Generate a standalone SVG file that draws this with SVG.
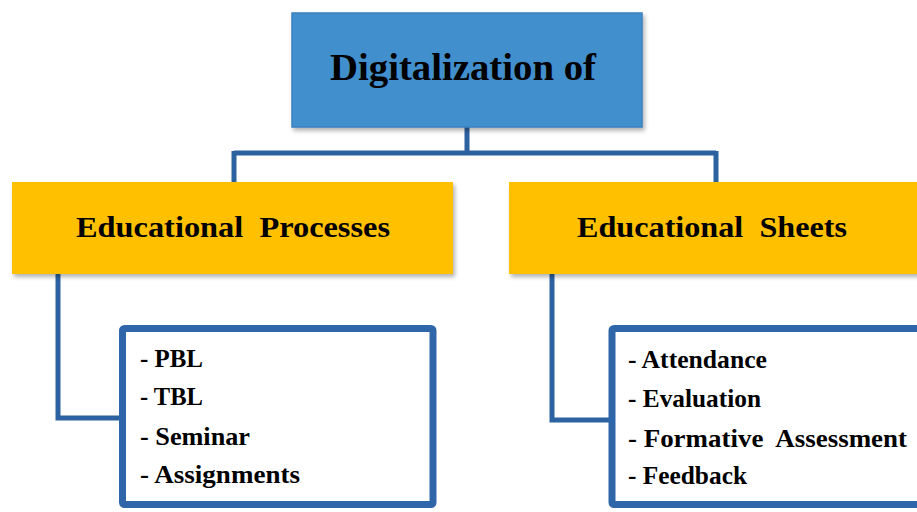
<svg xmlns="http://www.w3.org/2000/svg" width="917" height="512" viewBox="0 0 917 512">
<style>
text{font-family:"Liberation Serif","Times New Roman",serif;font-weight:bold;fill:#000}
.head{font-size:37px}
.cat{font-size:30px}
.item{font-size:25px}
.conn{fill:none;stroke:#2C62A0;stroke-width:5;stroke-linejoin:miter}
.list{fill:#fff;stroke:#2E66A9;stroke-width:7}
</style>
<defs>
<filter id="sh" x="-5%" y="-10%" width="115%" height="130%">
<feDropShadow dx="2" dy="3" stdDeviation="2" flood-color="#000" flood-opacity="0.3"/>
</filter>
</defs>
<rect width="917" height="512" fill="#fff"/>
<g id="connectors">
<path class="conn" d="M467,126 V153 M234,153 H716 M234,151 V182 M716,151 V182"/>
<path class="conn" d="M58,274 V418 H122"/>
<path class="conn" d="M552,274 V420 H612"/>
</g>
<g id="root">
<rect x="292" y="13" width="350" height="114" fill="#438FCE" stroke="#3A80C0" stroke-width="1.5" filter="url(#sh)"/>
<text class="head" x="330" y="80" textLength="266" lengthAdjust="spacingAndGlyphs">Digitalization of</text>
</g>
<g id="processes">
<rect x="12" y="182" width="441" height="92" fill="#FFC000" filter="url(#sh)"/>
<text class="cat" x="76" y="237" textLength="314" lengthAdjust="spacingAndGlyphs">Educational&#160; Processes</text>
</g>
<g id="sheets">
<rect x="509" y="182" width="420" height="92" fill="#FFC000" filter="url(#sh)"/>
<text class="cat" x="577" y="237" textLength="270" lengthAdjust="spacingAndGlyphs">Educational&#160; Sheets</text>
</g>
<g id="processes-list">
<rect class="list" x="122.5" y="328.5" width="310.5" height="176" rx="2"/>
<text class="item" x="140" y="367" textLength="63" lengthAdjust="spacingAndGlyphs">- PBL</text>
<text class="item" x="140" y="405" textLength="63" lengthAdjust="spacingAndGlyphs">- TBL</text>
<text class="item" x="140" y="445" textLength="110" lengthAdjust="spacingAndGlyphs">- Seminar</text>
<text class="item" x="140" y="483" textLength="160" lengthAdjust="spacingAndGlyphs">- Assignments</text>
</g>
<g id="sheets-list">
<rect class="list" x="612" y="328.5" width="320" height="176" rx="2"/>
<text class="item" x="628" y="368" textLength="139" lengthAdjust="spacingAndGlyphs">- Attendance</text>
<text class="item" x="628" y="407" textLength="133" lengthAdjust="spacingAndGlyphs">- Evaluation</text>
<text class="item" x="628" y="447" textLength="279" lengthAdjust="spacingAndGlyphs">- Formative&#160; Assessment</text>
<text class="item" x="628" y="484" textLength="119" lengthAdjust="spacingAndGlyphs">- Feedback</text>
</g>
</svg>
